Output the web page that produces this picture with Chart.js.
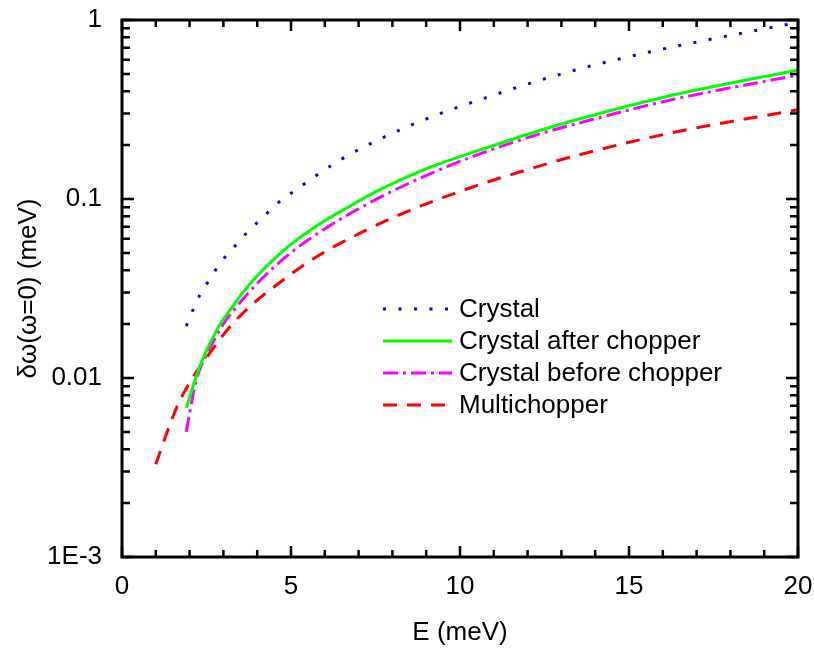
<!DOCTYPE html>
<html lang="en">
  <head>
    <meta charset="utf-8">
    <title>Resolution vs energy</title>
    <script src="https://cdn.jsdelivr.net/npm/chart.js@4.4.1/dist/chart.umd.min.js"></script>
    <style>
      html, body { margin: 0; padding: 0; background: #fff; }
      #wrap { width: 814px; height: 650px; }
    </style>
  </head>
  <body>
    <div id="wrap"><canvas id="chart" width="814" height="650"></canvas></div>

    <script>
    // values (E in meV, resolution in meV)
    const crystalE = [1.9, 2.1, 2.3, 2.6, 2.9, 3.3, 3.7, 4.2, 4.6, 5.1, 6.45, 7.85, 9.25, 10.65, 13, 15.3, 17.2, 20];
    const crystalY = [0.0195, 0.024, 0.029, 0.0357, 0.0437, 0.0534, 0.065, 0.080, 0.0946, 0.111, 0.165, 0.226, 0.292, 0.362, 0.50, 0.643, 0.766, 0.97];

    const afterE = [1.9, 2.3, 2.8, 3.2, 3.8, 4.8, 5.8, 6.8, 7.6, 9.1, 10.6, 12.1, 13.5, 16.1, 20];
    const afterY = [0.0068, 0.0116, 0.0185, 0.024, 0.0338, 0.052, 0.0716, 0.0925, 0.112, 0.150, 0.188, 0.233, 0.279, 0.373, 0.526];

    const beforeE = [1.9, 2.2, 2.55, 2.95, 3.35, 4.1, 5.1, 6.1, 6.8, 8.1, 10.1, 12.1, 13.5, 16.1, 20];
    const beforeY = [0.0050, 0.00975, 0.014, 0.0194, 0.0245, 0.0353, 0.0519, 0.070, 0.084, 0.113, 0.165, 0.223, 0.265, 0.353, 0.493];

    const multiE = [1.0, 1.37, 1.67, 2.1, 2.55, 3.2, 3.9, 4.7, 5.45, 6.3, 8.1, 10.1, 12.1, 13.5, 16.2, 20];
    const multiY = [0.0033, 0.0052, 0.0072, 0.0101, 0.0134, 0.0194, 0.0262, 0.0345, 0.0437, 0.0545, 0.080, 0.112, 0.148, 0.176, 0.233, 0.315];

    const yTickLabels = { 1: '1', 0.1: '0.1', 0.01: '0.01', 0.001: '1E-3' };

    function pts(xs, ys) {
      return xs.map((x, i) => ({ x: x, y: ys[i] }));
    }

    const FONT = 'Arial, "Liberation Sans", sans-serif';

    // frame with inward ticks on all four sides
    const frameTicks = {
      id: 'frameTicks',
      afterDraw(chart) {
        const ctx = chart.ctx;
        const { left, right, top, bottom } = chart.chartArea;
        const x = chart.scales.x, y = chart.scales.y;
        ctx.save();
        ctx.strokeStyle = '#000';
        ctx.lineWidth = 2.5;
        ctx.beginPath();
        for (let v = 0; v <= 20; v++) {
          const px = x.getPixelForValue(v);
          const len = v % 5 === 0 ? 11 : 7;
          ctx.moveTo(px, bottom); ctx.lineTo(px, bottom - len);
          ctx.moveTo(px, top); ctx.lineTo(px, top + len);
        }
        for (let e = -3; e <= 0; e++) {
          for (let m = 1; m < 10; m++) {
            if (e === 0 && m > 1) break;
            const py = y.getPixelForValue(m * Math.pow(10, e));
            const len = m === 1 ? 12 : 8;
            ctx.moveTo(left, py); ctx.lineTo(left + len, py);
            ctx.moveTo(right, py); ctx.lineTo(right - len, py);
          }
        }
        ctx.stroke();
        ctx.lineWidth = 3;
        ctx.strokeRect(left, top, right - left, bottom - top);
        ctx.restore();
      }
    };

    // legend drawn inside the plot
    const innerLegend = {
      id: 'innerLegend',
      afterDraw(chart) {
        const ctx = chart.ctx;
        const x0 = 383, x1 = 452, tx = 459;
        const rows = [309, 341, 373, 405];
        ctx.save();
        ctx.font = '26px ' + FONT;
        ctx.textBaseline = 'middle';
        chart.data.datasets.forEach((ds, i) => {
          ctx.strokeStyle = ds.borderColor;
          ctx.lineWidth = ds.borderWidth;
          ctx.setLineDash(ds.borderDash || []);
          ctx.beginPath();
          ctx.moveTo(x0, rows[i]); ctx.lineTo(x1, rows[i]);
          ctx.stroke();
          ctx.setLineDash([]);
          ctx.fillStyle = '#000';
          ctx.fillText(ds.label, tx, rows[i] + 1);
        });
        ctx.restore();
      }
    };

    const line = { showLine: true, pointRadius: 0, borderWidth: 3, cubicInterpolationMode: 'monotone' };

    const ctx = document.getElementById('chart').getContext('2d');
    const myChart = new Chart(ctx, {
      type: 'scatter',
      data: {
        datasets: [
          Object.assign({ label: 'Crystal', data: pts(crystalE, crystalY), borderColor: '#0000ff', borderDash: [3, 12.5] }, line),
          Object.assign({ label: 'Crystal after chopper', data: pts(afterE, afterY), borderColor: '#00ff00', borderDash: [] }, line),
          Object.assign({ label: 'Crystal before chopper', data: pts(beforeE, beforeY), borderColor: '#ff00ff', borderDash: [15, 5, 3, 5] }, line),
          Object.assign({ label: 'Multichopper', data: pts(multiE, multiY), borderColor: '#ff0000', borderDash: [14, 10] }, line)
        ]
      },
      options: {
        responsive: false,
        animation: false,
        layout: { padding: { left: 0, right: 16, top: 20, bottom: 0 } },
        plugins: { legend: { display: false }, tooltip: { enabled: false } },
        scales: {
          x: {
            type: 'linear',
            min: 0, max: 20,
            afterFit: s => { s.height = 93; s.paddingLeft = 0; s.paddingRight = 0; },
            grid: { display: false },
            border: { display: false },
            ticks: { stepSize: 5, padding: 6, color: '#000', font: { family: FONT, size: 26 } },
            title: { display: true, text: 'E (meV)', color: '#000', font: { family: FONT, size: 26 }, padding: { top: 0, bottom: 2 } }
          },
          y: {
            type: 'logarithmic',
            min: 0.001, max: 1,
            afterFit: s => { s.width = 122; s.paddingTop = 0; s.paddingBottom = 0; },
            grid: { display: false },
            border: { display: false },
            ticks: {
              padding: 12, color: '#000', font: { family: FONT, size: 26 },
              autoSkip: false,
              callback: v => yTickLabels[v] || ''
            },
            title: { display: true, text: 'δω(ω=0) (meV)', color: '#000', font: { family: FONT, size: 26 }, padding: { top: 13, bottom: 0 } }
          }
        }
      },
      plugins: [frameTicks, innerLegend]
    });
    </script>
  </body>
</html>
